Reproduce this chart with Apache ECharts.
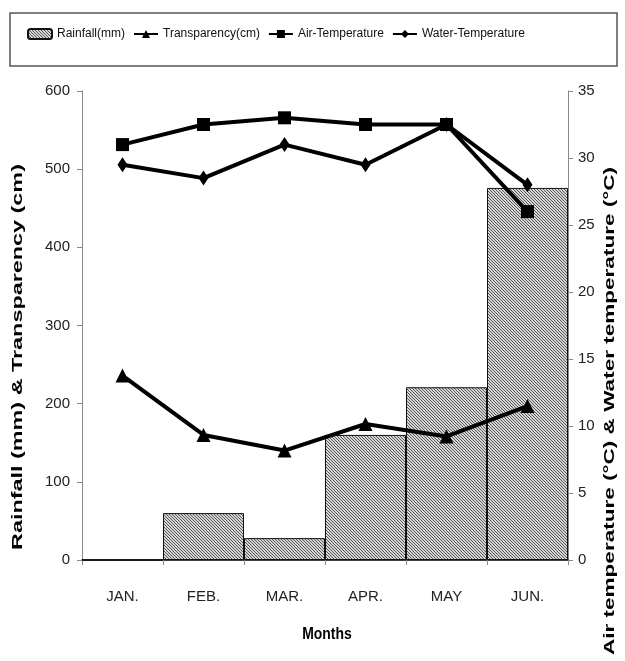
<!DOCTYPE html>
<html><head><meta charset="utf-8">
<script src="https://cdn.jsdelivr.net/npm/echarts@6/dist/echarts.min.js"></script>
<style>html,body{margin:0;padding:0;background:#fff}#c{width:625px;height:661px}</style>
</head><body><div id="c"></div>
<script>
var months = ['JAN.', 'FEB.', 'MAR.', 'APR.', 'MAY', 'JUN.'];
var rainfall = [0, 60, 28, 160, 221, 476];
var transparency = [236, 160, 140, 174, 158, 197];
var airTemp = [31.0, 32.5, 33.0, 32.5, 32.5, 26.0];
var waterTemp = [29.5, 28.5, 31.0, 29.5, 32.5, 28.0];
var leftTicks = [0, 600, 100];
var rightTicks = [0, 35, 5];

var SANS = '"Liberation Sans", Arial, sans-serif';

var pc = document.createElement('canvas');
pc.width = 3; pc.height = 3;
var g = pc.getContext('2d');
g.fillStyle = '#d4d4d4'; g.fillRect(0, 0, 3, 3);
g.fillStyle = '#5a5a5a';
for (var i = 0; i < 3; i++) g.fillRect(i, i, 1, 1);
var hatch = {image: pc, repeat: 'repeat'};

var chart = echarts.init(document.getElementById('c'), null, {renderer: 'canvas'});
chart.setOption({
  animation: false,
  backgroundColor: '#fff',
  legend: {
    left: 27, top: 28, itemWidth: 24, itemHeight: 10, itemGap: 8, padding: 0,
    textStyle: {fontFamily: SANS, fontSize: 12, color: '#111'},
    data: ['Rainfall(mm)', 'Transparency(cm)', 'Air-Temperature', 'Water-Temperature']
  },
  graphic: [
    {type: 'rect', shape: {x: 10, y: 13, width: 607, height: 53}, style: {fill: 'none', stroke: '#555', lineWidth: 1.5}},
    {type: 'text', x: 18, y: 357, rotation: Math.PI / 2, scaleX: 1.67,
      style: {text: 'Rainfall (mm) & Transparency (cm)', font: 'bold 14px ' + SANS, fill: '#000', align: 'center', verticalAlign: 'middle'}},
    {type: 'text', x: 610, y: 411, rotation: Math.PI / 2, scaleX: 1.61,
      style: {text: 'Air temperature (°C) & Water temperature (°C)', font: 'bold 14px ' + SANS, fill: '#000', align: 'center', verticalAlign: 'middle'}},
    {type: 'text', x: 327, y: 634, scaleX: 0.82,
      style: {text: 'Months', font: 'bold 17px ' + SANS, fill: '#000', align: 'center', verticalAlign: 'middle'}}
  ],
  grid: {left: 82, right: 57, top: 91, bottom: 101},
  xAxis: {
    type: 'category', data: months, boundaryGap: true,
    axisLine: {lineStyle: {color: '#000', width: 1.5}},
    axisTick: {show: true, interval: 0, length: 5, lineStyle: {color: '#888'}},
    axisLabel: {fontFamily: SANS, fontSize: 15, color: '#222', margin: 29}
  },
  yAxis: [
    {type: 'value', min: leftTicks[0], max: leftTicks[1], interval: leftTicks[2],
      axisLine: {show: true, lineStyle: {color: '#888'}},
      axisTick: {show: true, length: 5, lineStyle: {color: '#888'}},
      splitLine: {show: false},
      axisLabel: {fontFamily: SANS, fontSize: 15, color: '#222', margin: 12}},
    {type: 'value', min: rightTicks[0], max: rightTicks[1], interval: rightTicks[2], position: 'right',
      axisLine: {show: true, lineStyle: {color: '#888'}},
      axisTick: {show: true, length: 5, lineStyle: {color: '#888'}},
      splitLine: {show: false},
      axisLabel: {fontFamily: SANS, fontSize: 15, color: '#222', margin: 10}}
  ],
  series: [
    {name: 'Rainfall(mm)', type: 'bar', data: rainfall, barCategoryGap: '0%', yAxisIndex: 0,
      itemStyle: {color: hatch, borderColor: '#111', borderWidth: 1}, z: 1},
    {name: 'Transparency(cm)', type: 'line', data: transparency, yAxisIndex: 0,
      symbol: 'triangle', symbolSize: 14, lineStyle: {color: '#000', width: 4},
      itemStyle: {color: '#000'}, z: 5},
    {name: 'Air-Temperature', type: 'line', data: airTemp, yAxisIndex: 1,
      symbol: 'rect', symbolSize: 13, lineStyle: {color: '#000', width: 4},
      itemStyle: {color: '#000'}, z: 5},
    {name: 'Water-Temperature', type: 'line', data: waterTemp, yAxisIndex: 1,
      symbol: 'diamond', symbolSize: [10, 15], lineStyle: {color: '#000', width: 4},
      itemStyle: {color: '#000'}, z: 5}
  ]
});
</script></body></html>
